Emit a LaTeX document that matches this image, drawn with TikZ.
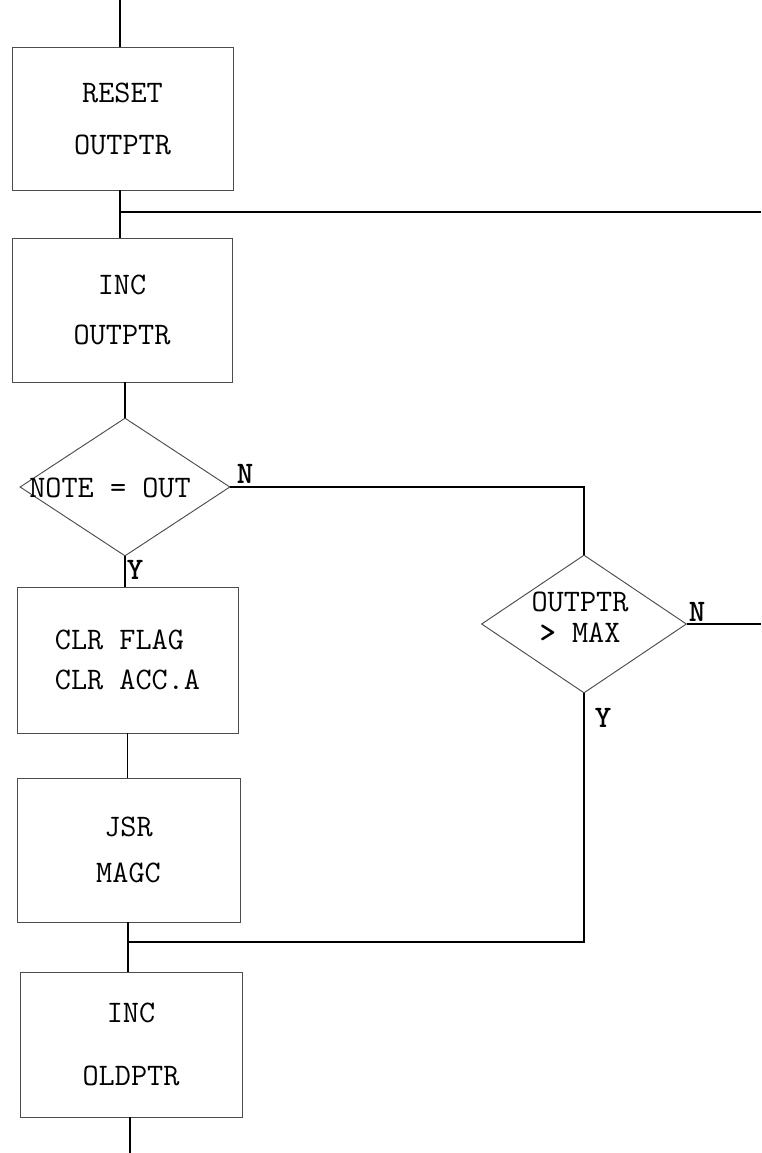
\documentclass[tikz,border=0pt]{standalone}
\usetikzlibrary{shapes.geometric}
\begin{document}
\begin{tikzpicture}[x=0.75pt,y=-0.75pt,
  txtfont/.style={font=\ttfamily\fontsize{23.5}{27}\selectfont},
  box/.style 2 args={draw=black!70, line width=0.7pt, minimum width=#1*0.75pt, minimum height=#2*0.75pt, inner sep=0pt, txtfont},
  dia/.style 2 args={draw=black!70, line width=0.7pt, shape=diamond, minimum width=#1*0.75pt, minimum height=#2*0.75pt, inner sep=0pt},
  txt/.style={txtfont, inner sep=0pt},
  lbl/.style={font=\ttfamily\bfseries\fontsize{23.5}{27}\selectfont, inner sep=0pt},
  conn/.style={draw=black, line width=1.1pt}]
\fill[white] (0,0) rectangle (761,1153);
\useasboundingbox (0,0) rectangle (761,1153);

% process boxes
\node[box={221}{143}, align=center] (reset) at (122.5,118.5) {RESET\\[12pt]OUTPTR};
\node[box={220}{144}, align=center] (inc1) at (122,310) {INC\\[10.5pt]OUTPTR};
\node[box={221}{146}, align=left] (clr) at (127.5,660) {CLR FLAG\\[3pt]CLR ACC.A};
\node[box={223}{144}, align=center] (jsr) at (128.5,850) {JSR\\[8pt]MAGC};
\node[box={222}{145}, align=center] (incold) at (131,1044.5) {INC\\[20pt]OLDPTR};

% decisions
\node[dia={210}{138}] (d1) at (125,487) {};
\node[txt] (d1t) at (110,488) {NOTE = OUT};
\node[dia={205}{138}] (d2) at (584,624) {};
\node[txt, align=center] (d2t) at (580,617) {OUTPTR\\[-4pt]{\bfseries>}~MAX};

% branch labels
\node[lbl] (n1) at (245,474) {N};
\node[lbl] (y1) at (135,570) {Y};
\node[lbl] (n2) at (697,612) {N};
\node[lbl] (y2) at (603,718) {Y};

% free ends
\coordinate (in) at (120,0);
\coordinate (loop) at (761,212);
\coordinate (exitN) at (761,624);
\coordinate (out) at (130,1153);
\coordinate (br) at (121,212);
\coordinate (ncorner) at (584,487);
\coordinate (merge) at (128,942);
\coordinate (mcorner) at (584,942);

% connectors
\draw[conn] (in) -- (in |- reset.north);
\draw[conn] (in |- reset.south) -- (in |- inc1.north);
\draw[conn] (br) -- (loop);
\draw[conn] (d1.north |- inc1.south) -- (d1.north);
\draw[conn] (d1.south) -- (d1.south |- clr.north);
\draw[conn] (d1.east) -- (ncorner) -- (d2.north);
\draw[conn] (d2.east) -- (exitN);
\draw[conn] (clr.south) -- (clr.south |- jsr.north);
\draw[conn] (merge |- jsr.south) -- (merge |- incold.north);
\draw[conn] (d2.south) -- (mcorner) -- (merge);
\draw[conn] (out |- incold.south) -- (out);
\end{tikzpicture}
\end{document}
